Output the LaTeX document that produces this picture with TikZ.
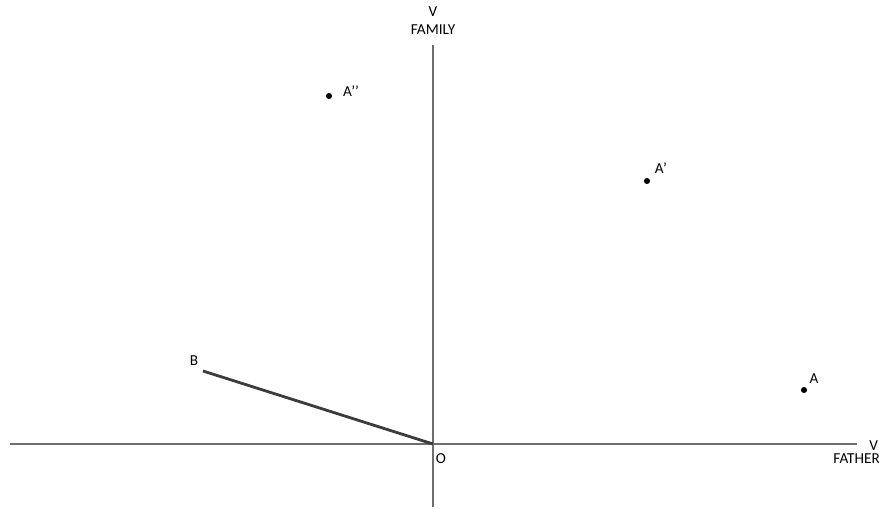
\documentclass[tikz,border=0pt]{standalone}
\usepackage{fontspec}
\setmainfont{Carlito}
\usetikzlibrary{positioning}
\definecolor{caxis}{HTML}{6E6E6E}
\definecolor{cline}{HTML}{3C3C3C}
\tikzset{
  every picture/.style={font=\fontsize{13}{14}\selectfont},
  axis/.style={draw=caxis, line width=1.1pt},
  dot/.style={circle, fill=black, inner sep=0pt, minimum size=5.2pt},
  lbl/.style={inner sep=1pt},
}
\begin{document}
\begin{tikzpicture}[x=0.03cm, y=-0.03cm]
  \useasboundingbox (0,0) rectangle (879,508);
  % axes
  \coordinate (o) at (433,444);
  \coordinate (xl) at (10,444);
  \coordinate (xr) at (857,444);
  \coordinate (yt) at (433,45);
  \coordinate (yb) at (433,507);
  \draw[axis] (xl) -- (xr);
  \draw[axis] (yt) -- (yb);
  \node[lbl] (vtop) at (433,12) {V};
  \node[lbl] (family) at (433,30) {FAMILY};
  \node[lbl, anchor=west] (vright) at (868,446) {V};
  \node[lbl, anchor=west] (father) at (832,459) {FATHER};
  \node[lbl] (olbl) at (441,459) {O};
  % points
  \node[dot] (a) at (804,390) {};
  \node[lbl] (albl) at (814,379) {A};
  \node[dot] (a1) at (647,181) {};
  \node[lbl] (a1lbl) at (661,168) {A’};
  \node[dot] (a2) at (329,96) {};
  \node[lbl] (a2lbl) at (351,91) {A’’};
  % segment OB
  \coordinate (b) at (203,371);
  \node[lbl] (blbl) at (194,361) {B};
  \draw[draw=cline, line width=2.4pt] (b) -- (o);
\end{tikzpicture}
\end{document}
